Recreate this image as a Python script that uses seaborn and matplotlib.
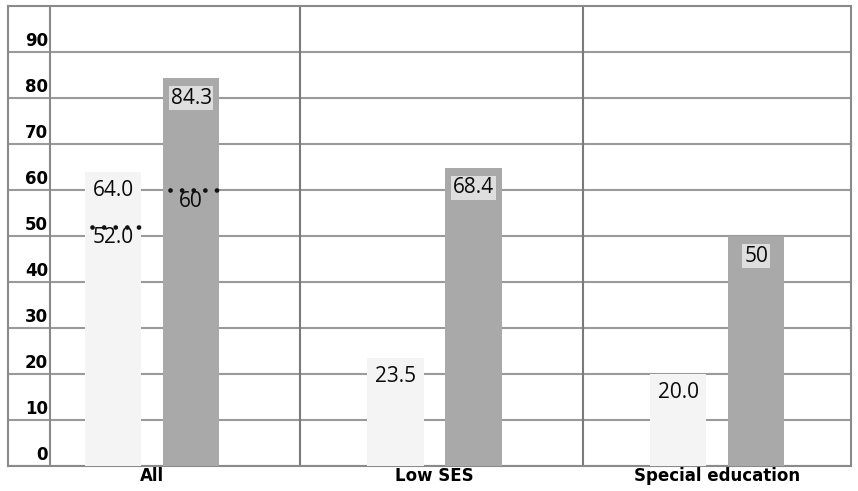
import matplotlib
matplotlib.use("Agg")
import matplotlib.pyplot as plt
import matplotlib.transforms as mtransforms
import numpy as np
import pandas as pd
import seaborn as sns

# ---- data ----
categories = ["All", "Low SES", "Special education"]
series_names = ["Series 1", "Series 2"]
light_values = [64.0, 23.5, 20.0]
dark_values = [84.3, 64.8, 50.0]
light_labels = ["64.0", "23.5", "20.0"]
dark_labels = ["84.3", "68.4", "50"]
light_targets = [52.0, np.nan, np.nan]
dark_targets = [60.0, np.nan, np.nan]
light_target_labels = ["52.0", "", ""]
dark_target_labels = ["60", "", ""]
y_ticks = [0, 10, 20, 30, 40, 50, 60, 70, 80, 90]

df = pd.DataFrame({
    "category": categories * 2,
    "series": [series_names[0]] * 3 + [series_names[1]] * 3,
    "value": light_values + dark_values,
})

sns.set_style("white")
plt.rcParams["font.family"] = ["DejaVu Sans"]
plt.rcParams["text.color"] = "black"
plt.rcParams["xtick.color"] = "black"
plt.rcParams["ytick.color"] = "black"

W, H = 858, 491
fig = plt.figure(figsize=(W / 100, H / 100), dpi=100)
ax = fig.add_axes([8 / W, 25 / H, 843 / W, 460 / H])

LIGHT = "#f4f4f4"
DARK = "#a9a9a9"
GRID = "#9a9a9a"

sns.barplot(data=df, x="category", y="value", hue="series", order=categories,
            hue_order=series_names, palette=[LIGHT, DARK], width=0.552, gap=0.275,
            saturation=1, errorbar=None, legend=False, ax=ax, zorder=3,
            linewidth=0, edgecolor="none")

ax.set_xlim(-0.51, 2.474)
ax.set_ylim(0, 100)
ax.set_xlabel("")
ax.set_ylabel("")

# grid and frame
ax.set_yticks(y_ticks)
ax.yaxis.grid(True, color=GRID, lw=1.5)
ax.set_axisbelow(True)
for s in ax.spines.values():
    s.set_visible(True)
    s.set_color("#8a8a8a")
    s.set_linewidth(1.5)
ax.axvline(-0.361, color="#8a8a8a", lw=1.5, zorder=1)
for xd in (0.524, 1.526):
    ax.axvline(xd, color="#7a7a7a", lw=1.5, zorder=1)

# tick labels
ax.tick_params(axis="y", length=0, pad=-28.8, labelsize=12, labelcolor="black")
ax.tick_params(axis="x", length=0, pad=1, labelsize=12, labelcolor="black")
ax.set_yticklabels([str(t) for t in y_ticks], fontweight="bold")
ax.set_xticks(range(len(categories)))
ax.set_xticklabels(categories, fontweight="bold")
offset = mtransforms.ScaledTranslation(0, 13 / 100, fig.dpi_scale_trans)
for lab in ax.get_yticklabels():
    lab.set_transform(lab.get_transform() + offset)

label_font = dict(family=["Open Sans", "DejaVu Sans"], fontsize=15, color="#0a0a0a")

light_bars = ax.containers[0]
dark_bars = ax.containers[1]

for bar, val, lab in zip(light_bars, light_values, light_labels):
    cx = bar.get_x() + bar.get_width() / 2
    ax.annotate(lab, xy=(cx, val), xytext=(0, -13.5), textcoords="offset points",
                ha="center", va="center", zorder=5, **label_font)

for bar, val, lab in zip(dark_bars, dark_values, dark_labels):
    cx = bar.get_x() + bar.get_width() / 2
    ax.annotate(lab, xy=(cx, val), xytext=(0, -14.4), textcoords="offset points",
                ha="center", va="center", zorder=5,
                bbox=dict(boxstyle="square,pad=0.08", fc="#dedede", ec="none"),
                **label_font)

for bars, targets, tlabels in ((light_bars, light_targets, light_target_labels),
                               (dark_bars, dark_targets, dark_target_labels)):
    for bar, t, tl in zip(bars, targets, tlabels):
        if np.isnan(t):
            continue
        x0 = bar.get_x() + bar.get_width() * 0.12
        x1 = bar.get_x() + bar.get_width() * 0.95
        ax.plot([x0, x1], [t, t], color="#111111", lw=3.4,
                linestyle=(0, (0.01, 2.45)), dash_capstyle="round", zorder=6)
        cx = bar.get_x() + bar.get_width() / 2
        ax.annotate(tl, xy=(cx, t), xytext=(0, -8), textcoords="offset points",
                    ha="center", va="center", zorder=5, **label_font)

fig.savefig("out.png", dpi=100, facecolor="white")
